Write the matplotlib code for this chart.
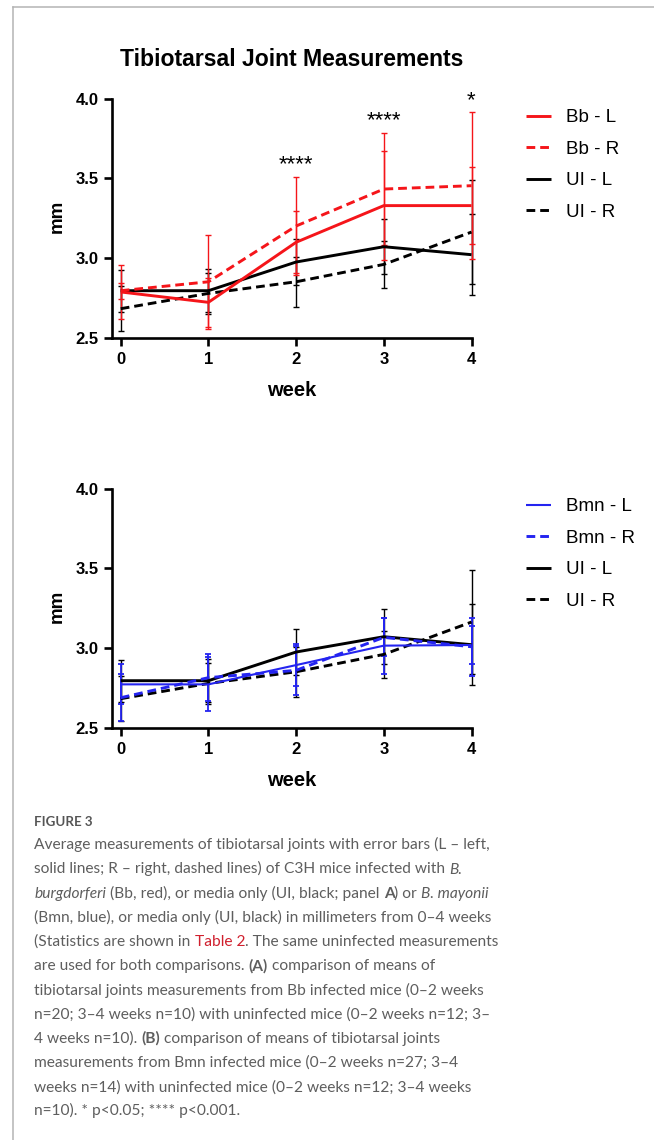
import matplotlib
matplotlib.use("Agg")
import matplotlib.pyplot as plt
from matplotlib.lines import Line2D
from matplotlib.font_manager import FontProperties

# ---------------- data ----------------
weeks = [0, 1, 2, 3, 4]
week_labels = ["0", "1", "2", "3", "4"]
y_ticks = [2.5, 3.0, 3.5, 4.0]
y_tick_labels = ["2.5", "3.0", "3.5", "4.0"]

bb_L = [2.787, 2.722, 3.099, 3.329, 3.329]
bb_L_err = [0.172, 0.155, 0.195, 0.343, 0.241]
bb_R = [2.795, 2.851, 3.201, 3.433, 3.454]
bb_R_err = [0.05, 0.295, 0.309, 0.354, 0.460]

ui_L = [2.795, 2.795, 2.975, 3.071, 3.021]
ui_L_err = [0.132, 0.136, 0.144, 0.174, 0.253]
ui_R = [2.682, 2.778, 2.851, 2.960, 3.163]
ui_R_err = [0.142, 0.130, 0.157, 0.146, 0.325]

bmn_L = [2.772, 2.772, 2.893, 3.015, 3.019]
bmn_L_err = [0.126, 0.169, 0.130, 0.176, 0.121]
bmn_R = [2.688, 2.814, 2.860, 3.067, 3.008]
bmn_R_err = [0.146, 0.146, 0.154, 0.120, 0.182]

star_weeks = [2, 3, 4]
star_texts = ["****", "****", "*"]
star_y = [3.550, 3.826, 3.952]

title = "Tibiotarsal Joint Measurements"
labels_top = ["Bb - L", "Bb - R", "UI - L", "UI - R"]
labels_bot = ["Bmn - L", "Bmn - R", "UI - L", "UI - R"]

caption_head = "FIGURE 3"
caption_lines = [
    [("Average measurements of tibiotarsal joints with error bars (L \u2013 left,", "n")],
    [("solid lines; R \u2013 right, dashed lines) of C3H mice infected with ", "n"), ("B.", "i")],
    [("burgdorferi", "i"), (" (Bb, red), or media only (UI, black; panel ", "n"), ("A", "b"),
     (") or ", "n"), ("B. mayonii", "i")],
    [("(Bmn, blue), or media only (UI, black) in millimeters from 0\u20134 weeks", "n")],
    [("(Statistics are shown in ", "n"), ("Table 2", "r"), (". The same uninfected measurements", "n")],
    [("are used for both comparisons. ", "n"), ("(A)", "b"), (" comparison of means of", "n")],
    [("tibiotarsal joints measurements from Bb infected mice (0\u20132 weeks", "n")],
    [("n=20; 3\u20134 weeks n=10) with uninfected mice (0\u20132 weeks n=12; 3\u2013", "n")],
    [("4 weeks n=10). ", "n"), ("(B)", "b"), (" comparison of means of tibiotarsal joints", "n")],
    [("measurements from Bmn infected mice (0\u20132 weeks n=27; 3\u20134", "n")],
    [("weeks n=14) with uninfected mice (0\u20132 weeks n=12; 3\u20134 weeks", "n")],
    [("n=10). * p<0.05; **** p<0.001.", "n")],
]

# ---------------- styles ----------------
W, H = 654, 1140
RED = "#f5151a"
BLUE = "#2424f0"
BLACK = "#000000"
ARIAL = "Liberation Sans"
DASH = (0, (3.0, 1.7))

fig = plt.figure(figsize=(W / 100, H / 100), dpi=100)
fig.patch.set_facecolor("white")


def fx(px):
    return px / W


def fy(py):
    return 1 - py / H


# frame lines
fig.add_artist(Line2D([fx(13), fx(13)], [fy(7), fy(H)], color="#b4b4b4", lw=1.1,
                      transform=fig.transFigure))
fig.add_artist(Line2D([fx(13), fx(W)], [fy(7), fy(7)], color="#b4b4b4", lw=1.1,
                      transform=fig.transFigure))


def make_axes(top_px, bottom_px):
    ax = fig.add_axes([fx(111.7), fy(bottom_px), (471.5 - 111.7) / W, (bottom_px - top_px) / H])
    ax.set_xlim(-0.103, 4.0)
    ax.set_ylim(2.5, 4.0)
    for s in ["top", "right"]:
        ax.spines[s].set_visible(False)
    for s in ["left", "bottom"]:
        ax.spines[s].set_linewidth(1.9)
    ax.set_xticks(weeks)
    ax.set_xticklabels(week_labels)
    ax.set_yticks(y_ticks)
    ax.set_yticklabels(y_tick_labels)
    ax.tick_params(direction="out", length=6, width=1.9, pad=3.5)
    ax.tick_params(axis="x", pad=4.5)
    for lab in ax.get_xticklabels() + ax.get_yticklabels():
        lab.set_fontfamily(ARIAL)
        lab.set_fontweight("bold")
        lab.set_fontsize(12)
    ax.patch.set_alpha(0)
    return ax


def series(ax, y, err, color, ls, lw, elw):
    ax.errorbar(weeks, y, yerr=err, fmt="none", ecolor=color, elinewidth=elw,
                capsize=2.3, capthick=elw, clip_on=False, zorder=2)
    line, = ax.plot(weeks, y, color=color, linestyle=ls, lw=lw, clip_on=False, zorder=3,
                    solid_capstyle="butt", dash_capstyle="butt")
    return line


def legend(ax, handles, labels, top_px):
    ax.legend(handles, labels, loc="upper left",
              bbox_to_anchor=(fx(526), fy(top_px)), bbox_transform=fig.transFigure,
              frameon=False, borderpad=0, borderaxespad=0, handlelength=1.33,
              handletextpad=0.78, labelspacing=0.77,
              prop=FontProperties(family=ARIAL, size=13.5))


# ---- top panel ----
ax1 = make_axes(98.7, 337.7)
h3 = series(ax1, ui_L, ui_L_err, BLACK, "-", 2.1, 1.0)
h4 = series(ax1, ui_R, ui_R_err, BLACK, DASH, 2.1, 1.0)
h1 = series(ax1, bb_L, bb_L_err, RED, "-", 2.1, 1.0)
h2 = series(ax1, bb_R, bb_R_err, RED, DASH, 2.1, 1.0)
legend(ax1, [h1, h2, h3, h4], labels_top, 109)
for wk, st, yy in zip(star_weeks, star_texts, star_y):
    ax1.text(wk, yy, st, ha="center", va="baseline", fontsize=16, family=ARIAL,
             clip_on=False)

# ---- bottom panel ----
ax2 = make_axes(488.7, 727.7)
g3 = series(ax2, ui_L, ui_L_err, BLACK, "-", 2.1, 1.0)
g4 = series(ax2, ui_R, ui_R_err, BLACK, DASH, 2.1, 1.0)
g1 = series(ax2, bmn_L, bmn_L_err, BLUE, "-", 1.5, 1.3)
g2 = series(ax2, bmn_R, bmn_R_err, BLUE, DASH, 2.1, 1.3)
legend(ax2, [g1, g2, g3, g4], labels_bot, 498)

# titles and axis labels
fig.text(fx(291.5), fy(66), title, ha="center", va="baseline", family=ARIAL,
         weight="bold", fontsize=16.6)
for top_px in (0, 390):
    fig.text(fx(57), fy(216.7 + top_px), "mm", ha="center", va="center", rotation=90,
             family=ARIAL, weight="bold", fontsize=13.5)
    fig.text(fx(291.5), fy(396 + top_px), "week", ha="center", va="baseline",
             family=ARIAL, weight="bold", fontsize=14.5)

# ---------------- caption ----------------
CAP_GRAY = "#5e5e5e"
CAP_RED = "#d0202e"
CAP_FAMILY = "Lato"
renderer = fig.canvas.get_renderer()


def style_props(st, size):
    p = dict(family=CAP_FAMILY, fontsize=size, color=CAP_GRAY)
    if st == "i":
        p["style"] = "italic"
    if st == "b":
        p["weight"] = "bold"
    if st == "r":
        p["color"] = CAP_RED
    return p


def text_w(s, props):
    t = fig.text(0, 0, s, **props)
    w = t.get_window_extent(renderer).width
    t.remove()
    return w


def space_w(props):
    return text_w("n n", props) - text_w("nn", props)


def line_width(segs, size, draw_at=None):
    x = 0.0
    for txt, st in segs:
        props = style_props(st, size)
        sw = space_w(props)
        lead = len(txt) - len(txt.lstrip(" "))
        trail = len(txt) - len(txt.rstrip(" "))
        core = txt.strip(" ")
        x += lead * sw
        if core:
            if draw_at is not None:
                fig.text(fx(draw_at[0] + x), fy(draw_at[1]), core, ha="left",
                         va="baseline", **props)
            x += text_w(core, props)
        x += trail * sw
    return x


base = 12.0
w_ref = line_width(caption_lines[4], base)
cap_size = base * 463.0 / w_ref

fig.text(fx(34.3), fy(826), caption_head, ha="left", va="baseline", family=CAP_FAMILY,
         weight="bold", fontsize=cap_size * 0.86, color="#555555")
for i, segs in enumerate(caption_lines):
    line_width(segs, cap_size, draw_at=(34.3, 849.3 + 24.2 * i))

fig.savefig("out.png", dpi=100, facecolor="white")
